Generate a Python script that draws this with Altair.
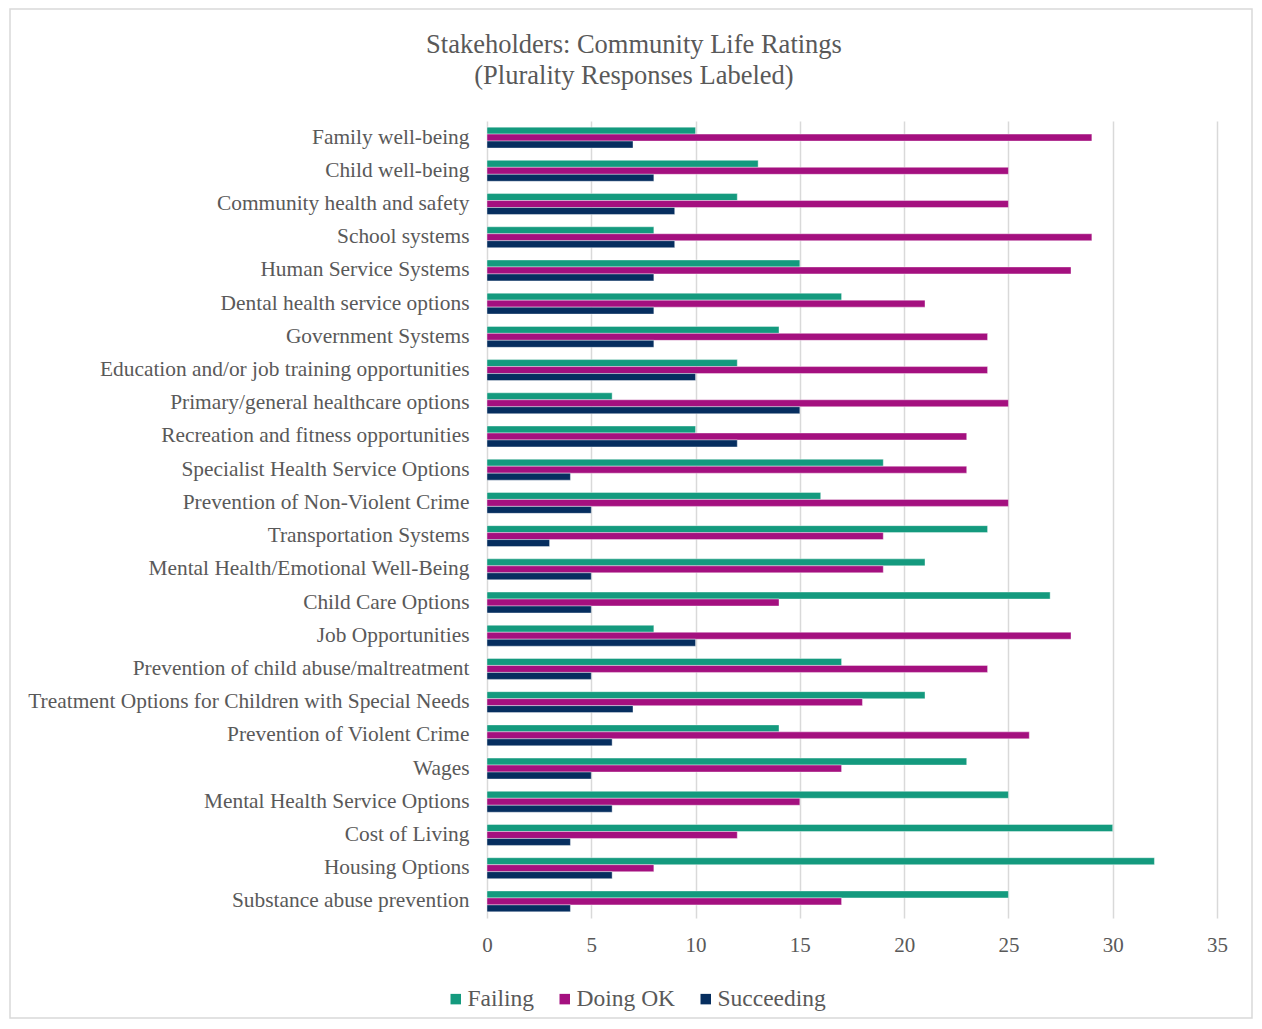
import altair as alt
import pandas as pd

categories = [
    "Family well-being",
    "Child well-being",
    "Community health and safety",
    "School systems",
    "Human Service Systems",
    "Dental health service options",
    "Government Systems",
    "Education and/or job training opportunities",
    "Primary/general healthcare options",
    "Recreation and fitness opportunities",
    "Specialist Health Service Options",
    "Prevention of Non-Violent Crime",
    "Transportation Systems",
    "Mental Health/Emotional Well-Being",
    "Child Care Options",
    "Job Opportunities",
    "Prevention of child abuse/maltreatment",
    "Treatment Options for Children with Special Needs",
    "Prevention of Violent Crime",
    "Wages",
    "Mental Health Service Options",
    "Cost of Living",
    "Housing Options",
    "Substance abuse prevention",
]

failing = [10, 13, 12, 8, 15, 17, 14, 12, 6, 10, 19, 16, 24, 21, 27, 8, 17, 21, 14, 23, 25, 30, 32, 25]
doing_ok = [29, 25, 25, 29, 28, 21, 24, 24, 25, 23, 23, 25, 19, 19, 14, 28, 24, 18, 26, 17, 15, 12, 8, 17]
succeeding = [7, 8, 9, 9, 8, 8, 8, 10, 15, 12, 4, 5, 3, 5, 5, 10, 5, 7, 6, 5, 6, 4, 6, 4]

series_names = ["Failing", "Doing OK", "Succeeding"]
series_colors = ["#149A7E", "#A4107F", "#062E5F"]

rows = []
for name, vals in zip(series_names, [failing, doing_ok, succeeding]):
    for cat, v in zip(categories, vals):
        rows.append({"Category": cat, "Series": name, "Value": v})
df = pd.DataFrame(rows)

FONT = "Liberation Serif"
W, H = 730, 797
PAD_L, PAD_T, PAD_R, PAD_B = 479, 113, 37, 102

bars = alt.Chart(df).mark_bar(stroke="white", strokeWidth=0.4).encode(
    y=alt.Y(
        "Category:N",
        sort=categories,
        title=None,
        scale=alt.Scale(paddingInner=0.37, paddingOuter=0.185),
        axis=alt.Axis(
            labelFont=FONT,
            labelFontSize=21.4,
            labelColor="#595959",
            labelPadding=18,
            labelLimit=600,
            ticks=False,
            domain=False,
            grid=False,
        ),
    ),
    yOffset=alt.YOffset("Series:N", sort=series_names),
    x=alt.X(
        "Value:Q",
        title=None,
        scale=alt.Scale(domain=[0, 35], nice=False),
        axis=alt.Axis(
            values=[0, 5, 10, 15, 20, 25, 30, 35],
            labelFont=FONT,
            labelFontSize=21,
            labelColor="#595959",
            labelPadding=16,
            labelFlush=False,
            ticks=False,
            domain=False,
            grid=True,
            gridColor="#d9d9d9",
            gridWidth=1.5,
        ),
    ),
    color=alt.Color(
        "Series:N",
        sort=series_names,
        scale=alt.Scale(domain=series_names, range=series_colors),
        legend=alt.Legend(
            title=None,
            orient="none",
            direction="horizontal",
            legendX=-43,
            legendY=866,
            labelFont=FONT,
            labelFontSize=23.5,
            labelColor="#595959",
            symbolType="square",
            symbolSize=110,
            symbolStrokeWidth=0,
            columnPadding=18,
            labelOffset=0,
        ),
    ),
)

frame = alt.Chart(pd.DataFrame({"k": [0]})).mark_rect(
    fill="transparent", stroke="#d9d9d9", strokeWidth=1.5, clip=False
).encode(
    x=alt.value(-477),
    x2=alt.value(W + PAD_R - 2),
    y=alt.value(-112),
    y2=alt.value(H + PAD_B - 2),
)

chart = alt.layer(frame, bars).properties(
    width=W,
    height=H,
    background="white",
    padding={"left": PAD_L, "top": PAD_T, "right": PAD_R, "bottom": PAD_B},
    autosize=alt.AutoSizeParams(type="none"),
    title=alt.TitleParams(
        text=["Stakeholders: Community Life Ratings", "(Plurality Responses Labeled)"],
        font=FONT,
        fontSize=26.5,
        fontWeight="normal",
        color="#595959",
        anchor="middle",
        frame="group",
        dx=-218,
        offset=-81,
        lineHeight=31,
    ),
).configure_view(stroke="transparent", strokeWidth=0).configure_axis(domain=False)

chart.save("out.html", embed_options={"renderer": "svg", "actions": False})
